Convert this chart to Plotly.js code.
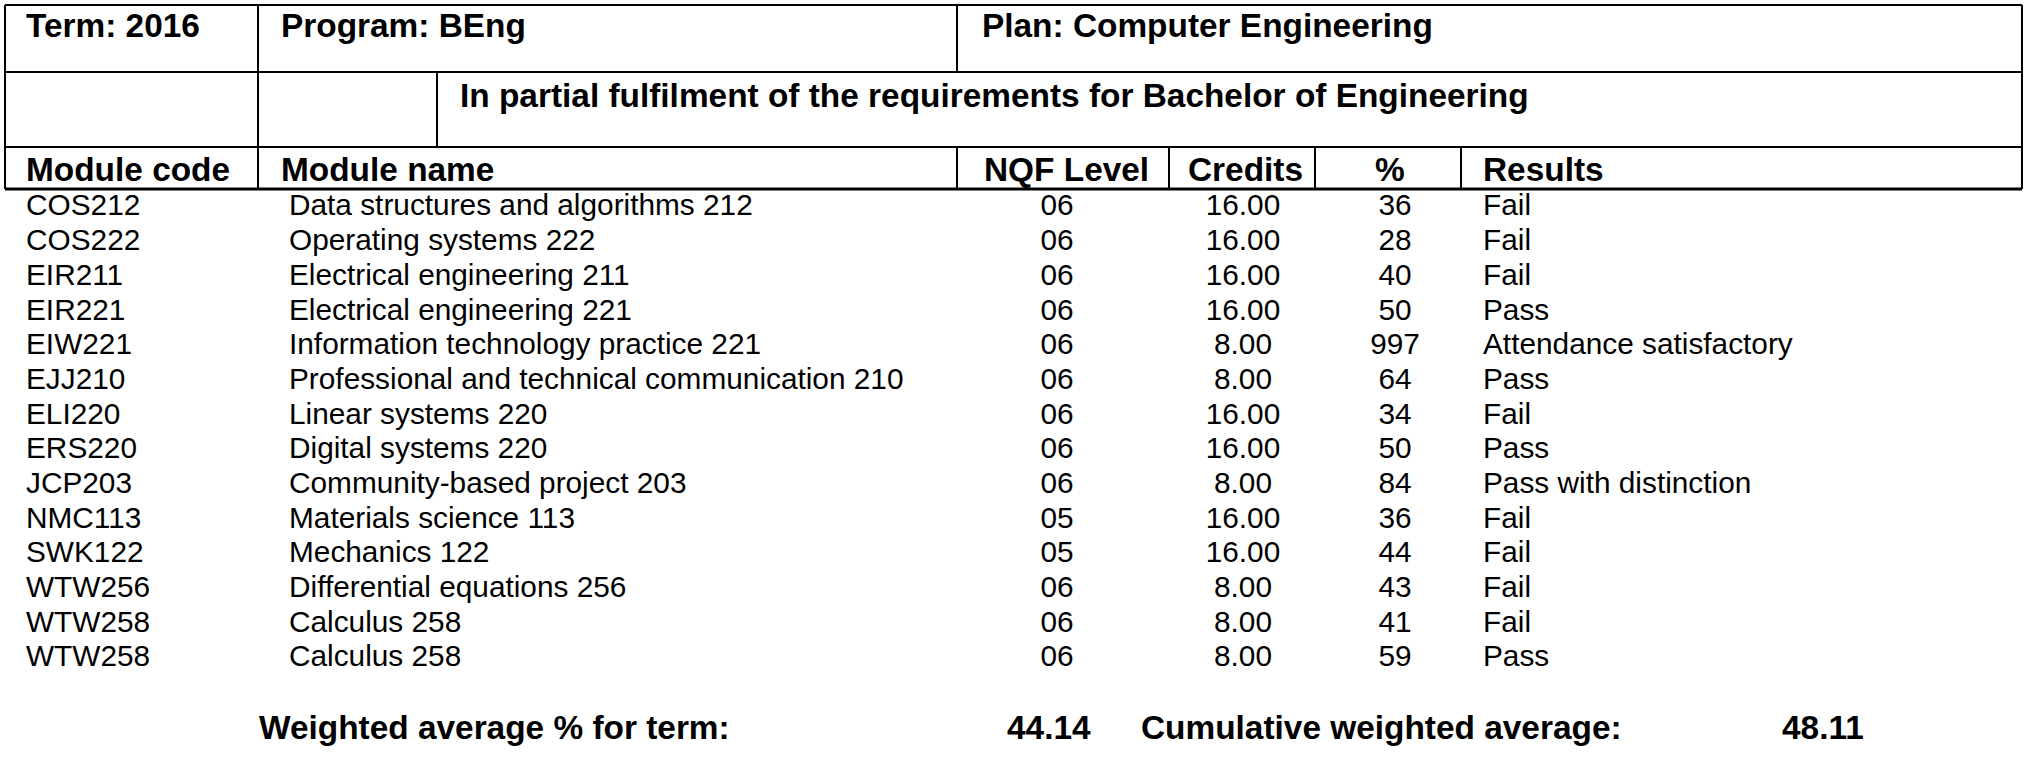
<!DOCTYPE html>
<html>
<head>
<meta charset="utf-8">
<script src="https://cdn.plot.ly/plotly-3.0.1.min.js"></script>
<style>html,body{margin:0;padding:0;background:#fff;}#chart{width:2026px;height:761px;}</style>
</head>
<body>
<div id="chart"></div>
<script>
// ---- data ----
const moduleCodes = ["COS212","COS222","EIR211","EIR221","EIW221","EJJ210","ELI220","ERS220","JCP203","NMC113","SWK122","WTW256","WTW258","WTW258"];
const moduleNames = ["Data structures and algorithms 212","Operating systems 222","Electrical engineering 211","Electrical engineering 221","Information technology practice 221","Professional and technical communication 210","Linear systems 220","Digital systems 220","Community-based project 203","Materials science 113","Mechanics 122","Differential equations 256","Calculus 258","Calculus 258"];
const nqfLevels = ["06","06","06","06","06","06","06","06","06","05","05","06","06","06"];
const credits = [16,16,16,16,8,8,16,16,8,16,16,8,8,8];
const percents = [36,28,40,50,997,64,34,50,84,36,44,43,41,59];
const results = ["Fail","Fail","Fail","Pass","Attendance satisfactory","Pass","Fail","Pass","Pass with distinction","Fail","Fail","Fail","Fail","Pass"];
const headerInfo = ["Term: 2016","Program: BEng","Plan: Computer Engineering"];
const fulfilmentText = "In partial fulfilment of the requirements for Bachelor of Engineering";
const columnHeaders = ["Module code","Module name","NQF Level","Credits","%","Results"];
const summaryLabels = ["Weighted average % for term:","Cumulative weighted average:"];
const summaryValues = [44.14, 48.11];

// ---- layout constants (pixels) ----
const W = 2026, H = 761;
const ROW0 = 208, PITCH = 34.69;
const FONT = "Liberation Sans, Arial, sans-serif";
const REG = 29.8, BOLD = 33.4;
const py = p => 1 - p / H;            // pixel y -> paper
const rowIdx = moduleCodes.map((_, i) => i);

function textTrace(x, txt, pos) {
  return {
    type: "scatter", mode: "text", hoverinfo: "skip", showlegend: false,
    x: rowIdx.map(() => x), y: rowIdx, text: txt, textposition: pos,
    textfont: {family: FONT, size: REG, color: "#000"}, cliponaxis: false
  };
}

const traces = [
  textTrace(26, moduleCodes, "middle right"),
  textTrace(289, moduleNames, "middle right"),
  textTrace(1057, nqfLevels, "middle center"),
  textTrace(1243, credits.map(v => v.toFixed(2)), "middle center"),
  textTrace(1395, percents.map(String), "middle center"),
  textTrace(1483, results, "middle right")
];

// table borders
const L = "#000";
function hl(x0, x1, y, w) { return {type:"line", xref:"x", yref:"paper", x0:x0, x1:x1, y0:py(y), y1:py(y), line:{color:L, width:w||2}}; }
function vl(x, y0, y1, w) { return {type:"line", xref:"x", yref:"paper", x0:x, x1:x, y0:py(y0), y1:py(y1), line:{color:L, width:w||2}}; }
const LEFT = 5, RIGHT = 2022, TOP = 5, R1 = 72, R2 = 147, R3 = 189;
const shapes = [
  hl(LEFT, RIGHT, TOP), hl(LEFT, RIGHT, R1), hl(LEFT, RIGHT, R2), hl(LEFT, RIGHT, R3, 3),
  vl(LEFT, TOP, R3), vl(RIGHT, TOP, R3),
  vl(258, TOP, R3),
  vl(957, TOP, R1), vl(957, R2, R3),
  vl(437, R1, R2),
  vl(1169, R2, R3), vl(1315, R2, R3), vl(1461, R2, R3)
];

function ann(text, x, y, anchor, size, bold) {
  return {text: text, xref:"x", yref:"paper", x:x, y:py(y), xanchor:anchor, yanchor:"middle",
    showarrow:false, font:{family:FONT, size:size||BOLD, color:"#000", weight: bold===false?"normal":"bold"}};
}
const annotations = [
  ann(headerInfo[0], 24, 26, "left"),
  ann(headerInfo[1], 279, 26, "left"),
  ann(headerInfo[2], 980, 26, "left"),
  ann(fulfilmentText, 458, 96, "left"),
  ann(columnHeaders[0], 24, 169, "left"),
  ann(columnHeaders[1], 279, 169, "left"),
  ann(columnHeaders[2], 1066, 169, "center"),
  ann(columnHeaders[3], 1245, 169, "center"),
  ann(columnHeaders[4], 1390, 169, "center"),
  ann(columnHeaders[5], 1481, 169, "left"),
  ann(summaryLabels[0], 257, 727, "left"),
  ann(summaryValues[0].toFixed(2), 1093, 727, "right"),
  ann(summaryLabels[1], 1139, 727, "left"),
  ann(summaryValues[1].toFixed(2), 1866, 727, "right")
];

const layout = {
  width: W, height: H, margin: {l:0, r:0, t:0, b:0},
  paper_bgcolor: "#fff", plot_bgcolor: "#fff", showlegend: false,
  xaxis: {range:[0, W], visible:false, fixedrange:true},
  yaxis: {range:[(H - ROW0) / PITCH, -ROW0 / PITCH], visible:false, fixedrange:true},
  shapes: shapes, annotations: annotations
};
Plotly.newPlot("chart", traces, layout, {staticPlot:true, displayModeBar:false});
</script>
</body>
</html>
